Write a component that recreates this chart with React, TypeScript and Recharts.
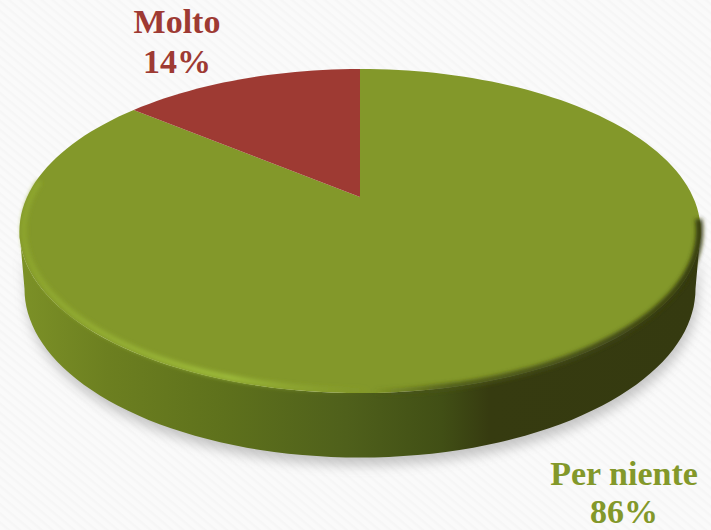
import { PieChart, Pie, Cell } from 'recharts';

const CATEGORIES = ['Per niente', 'Molto'];
const VALUES = [86, 14];
const COLORS = ['#83982a', '#9e3a33'];

const LABEL_POS: Record<string, { x: number; y: number; y2: number }> = {
  'Per niente': { x: 624, y: 485, y2: 523 },
  Molto: { x: 177, y: 33, y2: 73 },
};

const chartData = CATEGORIES.map((name, i) => ({ name, value: VALUES[i] }));

// perspective of the tilted disc: PERSP pulls the far side in, SQUASH flattens the y axis
const PERSP = 0.21;
const SQUASH = -154.9 / 331;

function project(cx: number, cy: number, r: number, deg: number, f = 1) {
  const a = (deg * Math.PI) / 180;
  const u = f * Math.cos(a);
  const v = f * Math.sin(a);
  const w = 1 + PERSP * v;
  return { x: cx + (r * 1.006 * u) / w, y: cy + (SQUASH * r * v) / w };
}

function arcPoints(cx: number, cy: number, r: number, from: number, to: number, f = 1) {
  const n = Math.max(2, Math.ceil(Math.abs(to - from) / 2));
  const pts = [];
  for (let i = 0; i <= n; i++) pts.push(project(cx, cy, r, from + ((to - from) * i) / n, f));
  return pts;
}

const toPath = (pts: { x: number; y: number }[]) =>
  pts.map((p, i) => `${i ? 'L' : 'M'}${p.x.toFixed(1)} ${p.y.toFixed(1)}`).join(' ');

// top face of a slice, with the lit / shaded rim on the big slice
function TopFace(props: any) {
  const { cx, cy, outerRadius: r, startAngle, endAngle, fill, index } = props;
  const edge = arcPoints(cx, cy, r, startAngle, endAngle);
  const d = `M${cx} ${cy} ${toPath(edge).replace('M', 'L')} Z`;
  return (
    <g>
      <path d={d} fill={fill} />
      {index === 0 && (
        <g>
          <path
            d={toPath(arcPoints(cx, cy, r, -186, -88, 0.988))}
            fill="none"
            stroke="url(#rimLight)"
            strokeWidth={5}
            filter="url(#soft)"
          />
          <path
            d={toPath(arcPoints(cx, cy, r, -88, -8, 0.997))}
            fill="none"
            stroke="url(#rimDark)"
            strokeWidth={7}
            filter="url(#soft)"
          />
        </g>
      )}
    </g>
  );
}

// side wall, drawn from the same scale as the top face
function Wall(props: any) {
  const { cx, cy, outerRadius: r, index } = props;
  if (index !== 0) return <g />;
  const top = arcPoints(cx, cy, r, -12, -168);
  const bottom = top
    .map((p) => ({ x: 359 + (p.x - 359) * 0.985, y: 231 + (p.y - 231) * 1.04 + 58 }))
    .reverse();
  const d = `${toPath(top)} ${toPath(bottom).replace('M', 'L')} Z`;
  return (
    <g>
      <path d={d} fill="#777" opacity={0.4} transform="translate(2 8)" filter="url(#shadow)" />
      <path d={d} fill="url(#wall)" />
    </g>
  );
}

function SliceLabel(props: any) {
  const pos = LABEL_POS[props.name];
  const pct = `${Math.round(props.percent * 100)}%`;
  return (
    <text
      textAnchor="middle"
      fill={props.fill}
      fontFamily="'Liberation Serif', serif"
      fontWeight={700}
      fontSize={34}
    >
      <tspan x={pos.x} y={pos.y}>{props.name}</tspan>
      <tspan x={pos.x} y={pos.y2}>{pct}</tspan>
    </text>
  );
}

export default function App() {
  return (
    <div style={{ position: 'absolute', left: 0, top: 0, width: 711, height: 530, overflow: 'hidden' }}>
      <PieChart width={711} height={530} margin={{ top: 0, right: 0, bottom: 0, left: 0 }}>
        <defs>
          <pattern id="paper" width="7" height="7" patternUnits="userSpaceOnUse" patternTransform="rotate(40)">
            <rect width="7" height="7" fill="#fafafa" />
            <rect width="7" height="2.5" fill="#f6f6f6" />
          </pattern>
          <linearGradient id="wall" gradientUnits="userSpaceOnUse" x1="20" y1="0" x2="700" y2="0">
            <stop offset="0" stopColor="#7c9127" />
            <stop offset="0.13" stopColor="#6c7f20" />
            <stop offset="0.3" stopColor="#5e711c" />
            <stop offset="0.48" stopColor="#4f601b" />
            <stop offset="0.62" stopColor="#414f15" />
            <stop offset="0.69" stopColor="#363b10" />
            <stop offset="1" stopColor="#353a10" />
          </linearGradient>
          <linearGradient id="rimLight" gradientUnits="userSpaceOnUse" x1="20" y1="0" x2="370" y2="0">
            <stop offset="0" stopColor="#8ea62e" />
            <stop offset="0.6" stopColor="#a0bf3c" />
            <stop offset="1" stopColor="#8ea62e" stopOpacity={0} />
          </linearGradient>
          <linearGradient id="rimDark" gradientUnits="userSpaceOnUse" x1="370" y1="0" x2="700" y2="0">
            <stop offset="0" stopColor="#4a5518" stopOpacity={0} />
            <stop offset="0.25" stopColor="#4a5518" stopOpacity={0.9} />
            <stop offset="1" stopColor="#353a10" />
          </linearGradient>
          <filter id="soft" x="-10%" y="-10%" width="120%" height="120%">
            <feGaussianBlur stdDeviation="2" />
          </filter>
          <filter id="shadow" x="-10%" y="-10%" width="120%" height="130%">
            <feGaussianBlur stdDeviation="6" />
          </filter>
        </defs>
        <rect x={0} y={0} width={711} height={530} fill="url(#paper)" />
        <Pie
          data={chartData}
          dataKey="value"
          nameKey="name"
          cx={360}
          cy={197}
          outerRadius={331}
          startAngle={90}
          endAngle={-270}
          stroke="none"
          isAnimationActive={false}
          shape={Wall}
          legendType="none"
        >
          {chartData.map((d) => (
            <Cell key={d.name} fill="#000" />
          ))}
        </Pie>
        <Pie
          data={chartData}
          dataKey="value"
          nameKey="name"
          cx={360}
          cy={197}
          outerRadius={331}
          startAngle={90}
          endAngle={-270}
          stroke="none"
          isAnimationActive={false}
          shape={TopFace}
          label={SliceLabel}
          labelLine={false}
        >
          {chartData.map((d, i) => (
            <Cell key={d.name} fill={COLORS[i]} />
          ))}
        </Pie>
      </PieChart>
    </div>
  );
}
